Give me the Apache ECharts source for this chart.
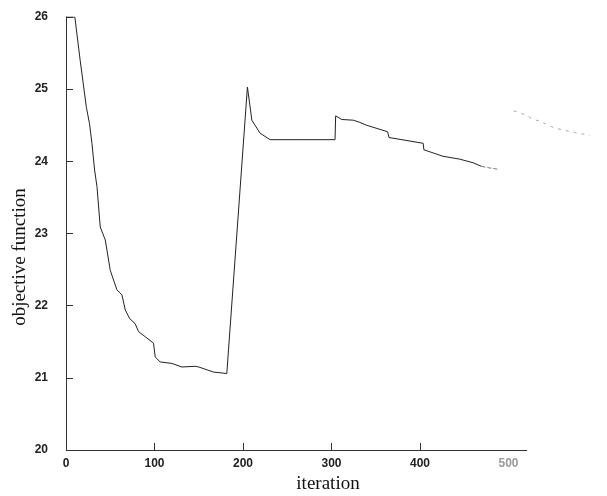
<!DOCTYPE html>
<html><head><meta charset="utf-8">
<script src="https://cdn.jsdelivr.net/npm/echarts@6/dist/echarts.min.js"></script>
<style>html,body{margin:0;padding:0;background:#fff}#c{width:607px;height:496px}</style>
</head><body><div id="c"></div>
<script>
const iterations = [0,10,16,23,26.6,29.3,32.3,35,38.7,44.4,50,57.5,63.2,67,72,78.2,82,89.5,98.9,100.8,106.4,119.6,131,146,150,166.6,181.7,205,210,219.3,230.6,260,304,304.7,311.5,324.6,332,339.7,363.4,365,403.6,404.4,426,445,460,469.5];
const objective = [26,26,25.40,24.75,24.52,24.25,23.88,23.65,23.09,22.91,22.49,22.22,22.15,21.94,21.82,21.75,21.64,21.57,21.48,21.29,21.22,21.20,21.15,21.16,21.15,21.08,21.06,25.03,24.57,24.39,24.30,24.30,24.30,24.63,24.58,24.57,24.54,24.50,24.41,24.33,24.25,24.16,24.07,24.03,23.98,23.93];
const fadeIterations = [469.5,478,488];
const fadeObjective = [23.93,23.91,23.89];
const tailIterations = [506,520,527.8,535,552,575,592];
const tailObjective = [24.70,24.64,24.58,24.56,24.46,24.40,24.36];
const xTickLabels = [0,100,200,300,400,500];
const xTickMarks = [100,200,300,400];
const yTickLabels = [20,21,22,23,24,25,26];
const xAxisEnd = 521;

const mainData = iterations.map((x,i)=>[x,objective[i]]);
const fadeData = fadeIterations.map((x,i)=>[x,fadeObjective[i]]);
const tailData = tailIterations.map((x,i)=>[x,tailObjective[i]]);

const labelFont = {fontFamily:'Liberation Sans',fontWeight:'bold',fontSize:12};
const chart = echarts.init(document.getElementById('c'));
chart.setOption({
  animation:false,
  backgroundColor:'#fff',
  grid:{left:66,right:10,top:17,bottom:46},
  xAxis:{
    type:'value',min:0,max:600,
    axisLine:{show:false},
    axisTick:{show:true,inside:true,length:7,customValues:xTickMarks,lineStyle:{color:'#333'}},
    axisLabel:Object.assign({customValues:xTickLabels,margin:8,color:(v)=> (v==500?'#999':'#222')},labelFont),
    splitLine:{show:false}
  },
  yAxis:{
    type:'value',min:20,max:26,interval:1,
    axisLine:{show:true,lineStyle:{color:'#333',width:1}},
    axisTick:{show:true,inside:true,length:7,lineStyle:{color:'#333'}},
    axisLabel:Object.assign({customValues:yTickLabels,margin:18,color:'#222'},labelFont),
    splitLine:{show:false}
  },
  graphic:[
    {type:'text',x:20,y:257,rotation:Math.PI/2,
     style:{text:'objective function',font:'19px "Liberation Serif"',fill:'#111',align:'center',verticalAlign:'middle'}},
    {type:'text',x:328,y:484,
     style:{text:'iteration',font:'19px "Liberation Serif"',fill:'#111',align:'center',verticalAlign:'middle'}}
  ],
  series:[
    {type:'line',data:mainData,showSymbol:false,symbol:'none',lineStyle:{color:'#222',width:1},
     markLine:{silent:true,symbol:'none',label:{show:false},lineStyle:{color:'#333',width:1,type:'solid'},
       data:[[{coord:[0,20]},{coord:[xAxisEnd,20]}]]}},
    {type:'line',data:fadeData,showSymbol:false,symbol:'none',lineStyle:{color:'#777',width:1,type:[4,2]}},
    {type:'line',data:tailData,showSymbol:false,symbol:'none',lineStyle:{color:'#aaa',width:1,type:[3,5]}}
  ]
});
</script></body></html>
